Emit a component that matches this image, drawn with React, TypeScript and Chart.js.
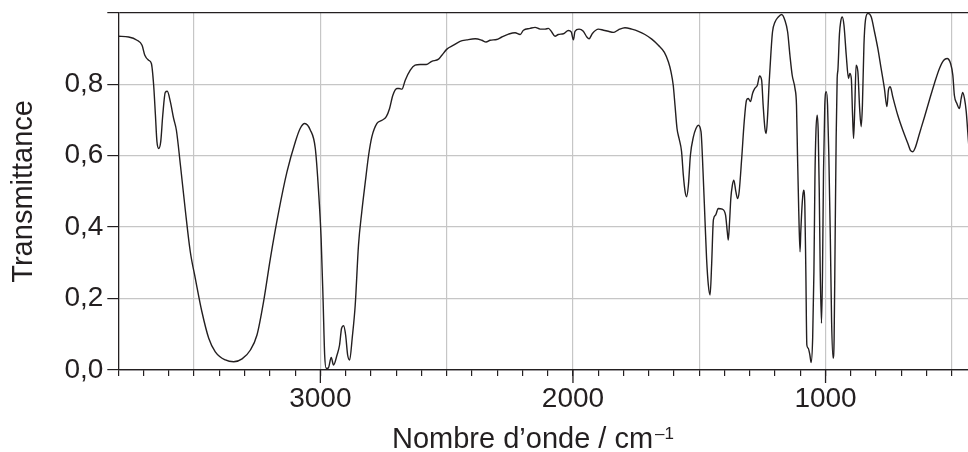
import React, { useEffect, useRef } from 'react';
import { Chart, registerables } from 'chart.js';

Chart.register(...registerables);

// IR spectrum (wavenumber in cm-1, transmittance 0..1)
const wavenumbers = [
  3800, 3759, 3726, 3706, 3695, 3680, 3669, 3660, 3653, 3647, 3640, 3632, 3624, 3614, 3606, 3594,
  3581, 3570, 3554, 3534, 3515, 3495, 3469, 3442, 3416, 3376, 3343, 3310, 3277, 3251, 3225, 3198,
  3165, 3132, 3099, 3080, 3062, 3040, 3020, 3007, 2997, 2989, 2983, 2977, 2969, 2957, 2948, 2934,
  2924, 2916, 2908, 2900, 2892, 2884, 2874, 2862, 2849, 2836, 2822, 2809, 2796, 2776, 2756, 2739,
  2726, 2713, 2697, 2688, 2677, 2664, 2644, 2625, 2605, 2581, 2559, 2532, 2519, 2499, 2473, 2447,
  2420, 2387, 2361, 2344, 2328, 2302, 2282, 2255, 2229, 2209, 2196, 2170, 2150, 2130, 2110, 2097,
  2084, 2071, 2058, 2038, 2018, 2007, 1998, 1992, 1976, 1959, 1945, 1936, 1923, 1899, 1879, 1860,
  1840, 1820, 1794, 1767, 1741, 1715, 1688, 1662, 1638, 1622, 1612, 1603, 1596, 1588, 1580, 1570,
  1563, 1556, 1550, 1543, 1535, 1523, 1513, 1504, 1493, 1485, 1477, 1471, 1464, 1457, 1451, 1444,
  1435, 1425, 1409, 1396, 1389, 1385, 1380, 1375, 1369, 1363, 1355, 1348, 1342, 1332, 1322, 1313,
  1306, 1297, 1289, 1280, 1270, 1261, 1253, 1247, 1240, 1235, 1230, 1223, 1216, 1210, 1200, 1187,
  1174, 1161, 1150, 1141, 1132, 1121, 1115, 1111, 1106, 1101, 1098, 1092, 1087, 1082, 1078, 1074,
  1069, 1062, 1057, 1051, 1046, 1042, 1038, 1033, 1029, 1025, 1021, 1016, 1012, 1008, 1003, 997,
  992, 987, 981, 976, 970, 966, 962, 958, 954, 951, 945, 940, 934, 927, 918, 909,
  904, 898, 893, 889, 884, 879, 872, 865, 859, 854, 848, 842, 832, 819, 806, 793,
  780, 767, 757, 751, 744, 734, 714, 694, 674, 664, 654, 645, 628, 608, 589, 569,
  549, 532, 519, 505, 496, 490, 480, 470, 463, 457, 450, 443, 437, 430,
];

const transmittance = [
  0.934, 0.932, 0.923, 0.909, 0.881, 0.867, 0.858, 0.797, 0.713, 0.639, 0.620, 0.639, 0.713, 0.777, 0.780, 0.751,
  0.704, 0.671, 0.573, 0.443, 0.331, 0.256, 0.163, 0.089, 0.051, 0.028, 0.023, 0.031, 0.056, 0.098, 0.191, 0.312,
  0.443, 0.555, 0.639, 0.676, 0.690, 0.672, 0.620, 0.499, 0.368, 0.190, 0.042, 0.005, 0.005, 0.035, 0.014, 0.042,
  0.070, 0.117, 0.124, 0.098, 0.042, 0.028, 0.089, 0.182, 0.350, 0.443, 0.527, 0.601, 0.653, 0.690, 0.699, 0.709,
  0.732, 0.769, 0.788, 0.788, 0.786, 0.811, 0.839, 0.853, 0.855, 0.855, 0.864, 0.870, 0.881, 0.898, 0.909, 0.920,
  0.924, 0.927, 0.923, 0.918, 0.923, 0.925, 0.932, 0.940, 0.944, 0.939, 0.951, 0.956, 0.959, 0.954, 0.954, 0.956,
  0.946, 0.934, 0.939, 0.941, 0.950, 0.946, 0.924, 0.948, 0.954, 0.948, 0.932, 0.927, 0.942, 0.954, 0.951, 0.948,
  0.945, 0.952, 0.958, 0.954, 0.948, 0.939, 0.926, 0.909, 0.889, 0.862, 0.835, 0.797, 0.741, 0.676, 0.648, 0.611,
  0.545, 0.499, 0.485, 0.517, 0.601, 0.653, 0.676, 0.685, 0.667, 0.555, 0.415, 0.312, 0.238, 0.210, 0.294, 0.420,
  0.434, 0.452, 0.450, 0.434, 0.387, 0.364, 0.415, 0.480, 0.517, 0.531, 0.499, 0.480, 0.499, 0.592, 0.695, 0.755,
  0.760, 0.751, 0.774, 0.788, 0.797, 0.823, 0.811, 0.741, 0.676, 0.662, 0.704, 0.807, 0.890, 0.946, 0.974, 0.988,
  0.995, 0.979, 0.946, 0.881, 0.825, 0.788, 0.741, 0.601, 0.443, 0.331, 0.387, 0.471, 0.503, 0.462, 0.275, 0.070,
  0.061, 0.042, 0.021, 0.089, 0.275, 0.536, 0.667, 0.713, 0.667, 0.508, 0.275, 0.131, 0.275, 0.555, 0.741, 0.779,
  0.741, 0.601, 0.368, 0.135, 0.033, 0.089, 0.368, 0.648, 0.816, 0.840, 0.940, 0.975, 0.988, 0.965, 0.881, 0.816,
  0.830, 0.816, 0.713, 0.648, 0.741, 0.853, 0.835, 0.732, 0.681, 0.741, 0.909, 0.979, 0.998, 0.988, 0.946, 0.900,
  0.844, 0.788, 0.737, 0.783, 0.793, 0.765, 0.713, 0.671, 0.634, 0.615, 0.611, 0.622, 0.662, 0.709, 0.755, 0.802,
  0.844, 0.867, 0.872, 0.858, 0.825, 0.769, 0.746, 0.732, 0.760, 0.777, 0.760, 0.723, 0.667, 0.600,
];

// axis ticks
const labelledTicks = [3000, 2000, 1000];
const xTitle = 'Nombre d’onde / cm';
const xTitleExp = '–1';
const yTitle = 'Transmittance';

const ink = '#231f20';
const gridGray = '#c6c6c6';
const family = '"Liberation Sans", Arial, Helvetica, sans-serif';

// long ticks under labelled values + x title with superscript
const irDecor = {
  id: 'irDecor',
  afterDraw(chart: any) {
    const { ctx, chartArea } = chart;
    const x = chart.scales.x;
    ctx.save();
    ctx.strokeStyle = ink;
    ctx.lineWidth = 1.3;
    labelledTicks.forEach(v => {
      const px = x.getPixelForValue(v);
      ctx.beginPath();
      ctx.moveTo(px, chartArea.bottom);
      ctx.lineTo(px, chartArea.bottom + 13);
      ctx.stroke();
    });
    ctx.fillStyle = ink;
    ctx.textBaseline = 'alphabetic';
    ctx.textAlign = 'left';
    ctx.font = `29px ${family}`;
    const w1 = ctx.measureText(xTitle).width;
    ctx.font = `17px ${family}`;
    const w2 = ctx.measureText(xTitleExp).width;
    const x0 = 533 - (w1 + w2 + 2) / 2;
    ctx.font = `29px ${family}`;
    ctx.fillText(xTitle, x0, 448);
    ctx.font = `17px ${family}`;
    ctx.fillText(xTitleExp, x0 + w1 + 2, 439);
    ctx.restore();
  },
};

const App: React.FC = () => {
  const chartRef = useRef<HTMLCanvasElement>(null);
  const chartInstance = useRef<Chart | null>(null);

  useEffect(() => {
    if (!chartRef.current) return;
    if (chartInstance.current) chartInstance.current.destroy();

    const points = wavenumbers.map((w, i) => ({ x: w, y: transmittance[i] }));

    chartInstance.current = new Chart(chartRef.current, {
      type: 'line',
      data: {
        datasets: [{
          label: 'Transmittance',
          data: points,
          borderColor: ink,
          borderWidth: 1.4,
          pointRadius: 0,
          fill: false,
          cubicInterpolationMode: 'monotone',
        }],
      },
      options: {
        animation: false,
        responsive: true,
        maintainAspectRatio: false,
        devicePixelRatio: 1,
        layout: { padding: { top: 12.7, right: 0, bottom: 0, left: 0 } },
        plugins: {
          legend: { display: false },
          tooltip: { enabled: false },
          title: { display: false },
        },
        scales: {
          x: {
            type: 'linear',
            reverse: true,
            min: 436,
            max: 3800,
            border: { color: ink, width: 1.3 },
            grid: {
              color: (c: any) => (c.tick && c.tick.value % 500 === 0 ? gridGray : 'rgba(0,0,0,0)'),
              tickColor: ink,
              tickLength: 6,
              lineWidth: 1.2,
              tickWidth: 1.2,
            },
            ticks: {
              stepSize: 100,
              includeBounds: false,
              autoSkip: false,
              maxRotation: 0,
              padding: 6,
              color: ink,
              font: { size: 28, family },
              callback: (v: any) => (Number(v) % 1000 === 0 ? String(v) : ''),
            },
            afterFit: (s: any) => {
              s.height = 82;
              s.paddingLeft = 0;
              s.paddingRight = 0;
            },
          },
          y: {
            min: 0,
            max: 1,
            border: { color: ink, width: 1.3 },
            grid: {
              color: (c: any) => (c.tick && (c.tick.value >= 0.999 || c.tick.value === 0) ? ink : gridGray),
              tickColor: ink,
              tickLength: 11,
              lineWidth: 1.2,
              tickWidth: 1.2,
            },
            ticks: {
              stepSize: 0.2,
              padding: 4,
              color: ink,
              font: { size: 28, family },
              callback: (v: any) => (Number(v) >= 0.999 ? '' : Number(v).toFixed(1).replace('.', ',')),
            },
            title: {
              display: true,
              text: yTitle,
              color: ink,
              font: { size: 29, family },
              padding: { top: 7, bottom: 0 },
            },
            afterFit: (s: any) => {
              s.width = 118.3;
              s.paddingTop = 0;
              s.paddingBottom = 0;
            },
          },
        },
      },
      plugins: [irDecor],
    });

    return () => {
      if (chartInstance.current) {
        chartInstance.current.destroy();
        chartInstance.current = null;
      }
    };
  }, []);

  return (
    <div style={{ position: 'absolute', left: 0, top: 0, width: 968, height: 452, background: '#fff' }}>
      <canvas ref={chartRef} />
    </div>
  );
};

export default App;
